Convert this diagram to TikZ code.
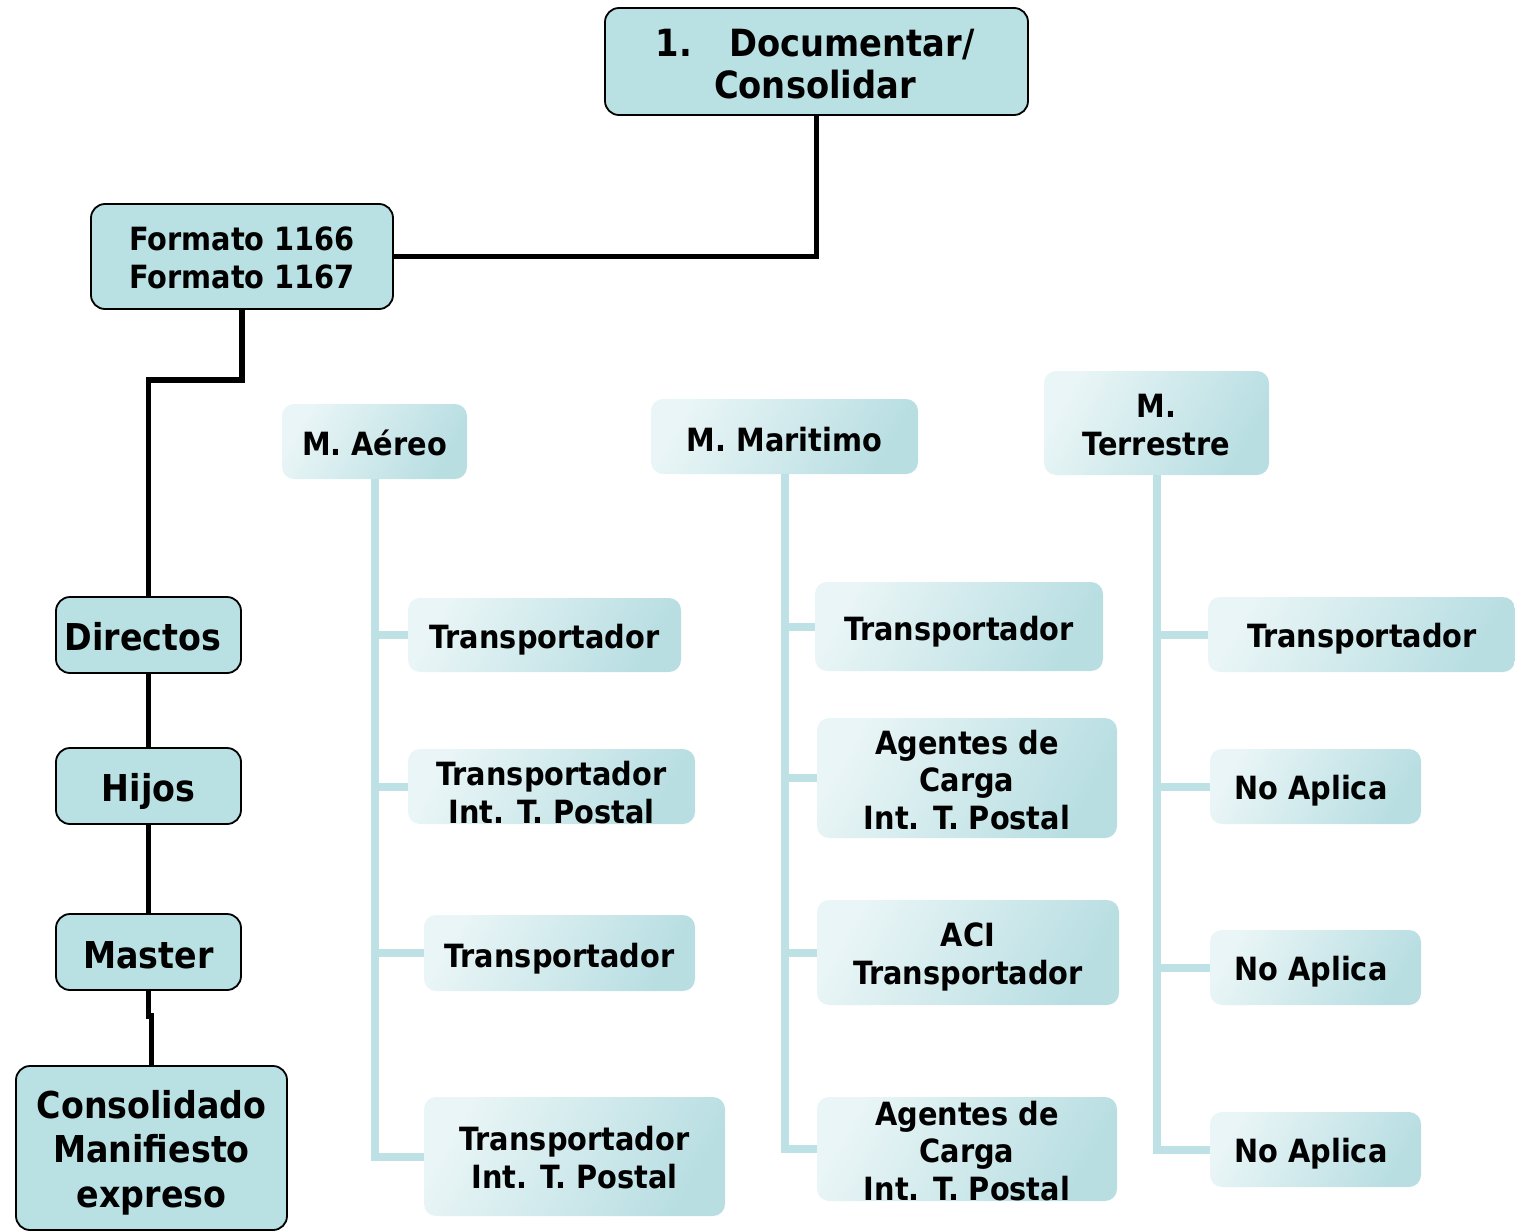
\documentclass[tikz,border=0pt]{standalone}
\usepackage{fontspec}
\setmainfont{DejaVu Sans Condensed}
\definecolor{darkc}{RGB}{185,224,227}
\definecolor{lightc}{RGB}{233,245,246}
\definecolor{gradc}{RGB}{184,222,226}
\definecolor{linec}{RGB}{189,225,229}
\pgfdeclarelayer{bg}
\pgfsetlayers{bg,main}
\begin{document}
\begin{tikzpicture}[x=1pt,y=-1pt,
  darkbox/.style={draw=black, line width=1.8pt, rounded corners=14pt, fill=darkc, inner sep=0pt},
  lightbox/.style={rounded corners=12pt, top color=lightc, bottom color=gradc, shading angle=60, inner sep=0pt},
  ltxt/.style={anchor=base, align=center, inner sep=0pt, font=\bfseries\fontsize{32}{37.5}\selectfont},
  dtxt/.style={anchor=base, align=center, inner sep=0pt, font=\bfseries\fontsize{37}{44.5}\selectfont},
  ftxt/.style={anchor=base, align=center, inner sep=0pt, font=\bfseries\fontsize{32}{38}\selectfont},
  ttxt/.style={anchor=base, align=center, inner sep=0pt, font=\bfseries\fontsize{37.5}{42}\selectfont},
  blk/.style={line width=5.5pt, black},
  lnk/.style={line width=8pt, linec}
]
\useasboundingbox (0,0) rectangle (1515,1231);

% dark boxes
\node[darkbox, minimum width=423pt, minimum height=107pt] (top) at (816.5,61.5) {};
\node[ttxt] (toptext) at (815,99) {1.\hspace{1em}Documentar/\\Consolidar};
\node[darkbox, minimum width=302pt, minimum height=105pt] (fmt) at (242,256.5) {};
\node[ftxt] (fmttext) at (242,288) {Formato 1166\\Formato 1167};
\node[darkbox, minimum width=185pt, minimum height=76pt] (dir) at (148.5,635) {};
\node[dtxt] (dirtext) at (143,650) {Directos};
\node[darkbox, minimum width=185pt, minimum height=76pt] (hij) at (148.5,786) {};
\node[dtxt] (hijtext) at (148.5,801) {Hijos};
\node[darkbox, minimum width=185pt, minimum height=76pt] (mas) at (148.5,952) {};
\node[dtxt] (mastext) at (148.5,968) {Master};
\node[darkbox, minimum width=271pt, minimum height=164pt] (con) at (151.5,1148) {};
\node[dtxt] (context) at (151.5,1207) {Consolidado\\Manifiesto\\expreso};

% light boxes: modes
\node[lightbox, minimum width=185pt, minimum height=75pt] (aer) at (374.5,441.5) {};
\node[ltxt] (aertext) at (374.5,455) {M. Aéreo};
\node[lightbox, minimum width=267pt, minimum height=75pt] (mar) at (784.5,436.5) {};
\node[ltxt] (martext) at (784.5,451) {M. Maritimo};
\node[lightbox, minimum width=225pt, minimum height=104pt] (ter) at (1156.5,423) {};
\node[ltxt] (tertext) at (1156.5,455) {M.\\Terrestre};

% aereo column
\node[lightbox, minimum width=273pt, minimum height=74pt] (a1) at (544.5,635) {};
\node[ltxt] (a1text) at (544.5,648) {Transportador};
\node[lightbox, minimum width=287pt, minimum height=75pt] (a2) at (551.5,786.5) {};
\node[ltxt] (a2text) at (551.5,823) {Transportador\\Int. T. Postal};
\node[lightbox, minimum width=271pt, minimum height=76pt] (a3) at (559.5,953) {};
\node[ltxt] (a3text) at (559.5,967) {Transportador};
\node[lightbox, minimum width=301pt, minimum height=119pt] (a4) at (574.5,1156.5) {};
\node[ltxt] (a4text) at (574.5,1188) {Transportador\\Int. T. Postal};

% maritimo column
\node[lightbox, minimum width=288pt, minimum height=89pt] (m1) at (959,626.5) {};
\node[ltxt] (m1text) at (959,640) {Transportador};
\node[lightbox, minimum width=300pt, minimum height=120pt] (m2) at (967,778) {};
\node[ltxt] (m2text) at (967,829) {Agentes de\\Carga\\Int. T. Postal};
\node[lightbox, minimum width=302pt, minimum height=105pt] (m3) at (968,952.5) {};
\node[ltxt] (m3text) at (968,984) {ACI\\Transportador};
\node[lightbox, minimum width=300pt, minimum height=104pt] (m4) at (967,1149) {};
\node[ltxt] (m4text) at (967,1200) {Agentes de\\Carga\\Int. T. Postal};

% terrestre column
\node[lightbox, minimum width=307pt, minimum height=75pt] (t1) at (1361.5,634.5) {};
\node[ltxt] (t1text) at (1362,647) {Transportador};
\node[lightbox, minimum width=211pt, minimum height=75pt] (t2) at (1315.5,786.5) {};
\node[ltxt] (t2text) at (1311,799) {No Aplica};
\node[lightbox, minimum width=211pt, minimum height=75pt] (t3) at (1315.5,967.5) {};
\node[ltxt] (t3text) at (1311,980) {No Aplica};
\node[lightbox, minimum width=211pt, minimum height=75pt] (t4) at (1315.5,1149.5) {};
\node[ltxt] (t4text) at (1311,1162) {No Aplica};

\coordinate (j1) at (148.5,380);
\coordinate (j2) at (148.5,1016);
\coordinate (j3) at (151.5,1016);

\begin{pgfonlayer}{bg}
  % black connectors
  \draw[blk] (top.south) |- (fmt.east);
  \draw[blk] (fmt.south) |- (j1) -- (dir.north);
  \draw[blk] (dir.south) -- (hij.north);
  \draw[blk] (hij.south) -- (mas.north);
  \draw[blk] (mas.south) -- (j2) -- (j3) -- (con.north);
  % light connectors
  \draw[lnk] (aer.south) |- (a4.west);
  \draw[lnk] (aer.south |- a1.west) -- (a1.west);
  \draw[lnk] (aer.south |- a2.west) -- (a2.west);
  \draw[lnk] (aer.south |- a3.west) -- (a3.west);
  \draw[lnk] (mar.south) |- (m4.west);
  \draw[lnk] (mar.south |- m1.west) -- (m1.west);
  \draw[lnk] (mar.south |- m2.west) -- (m2.west);
  \draw[lnk] (mar.south |- m3.west) -- (m3.west);
  \draw[lnk] (ter.south) |- (t4.west);
  \draw[lnk] (ter.south |- t1.west) -- (t1.west);
  \draw[lnk] (ter.south |- t2.west) -- (t2.west);
  \draw[lnk] (ter.south |- t3.west) -- (t3.west);
\end{pgfonlayer}
\end{tikzpicture}
\end{document}
